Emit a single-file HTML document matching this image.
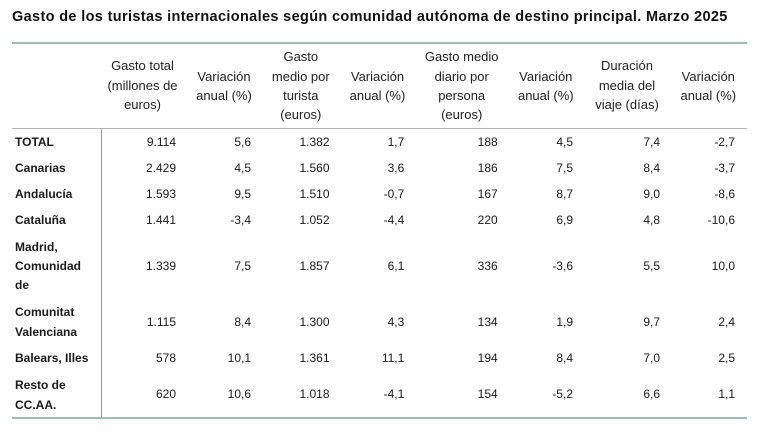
<!DOCTYPE html>
<html>
<head>
<meta charset="utf-8">
<style>
html,body{margin:0;padding:0;background:#fff;}
body{width:774px;height:439px;position:relative;overflow:hidden;font-family:"Liberation Sans",Arial,sans-serif;color:#1c1c1c;}
.title{position:absolute;left:12px;top:7px;font-size:14.5px;font-weight:bold;letter-spacing:0.35px;white-space:nowrap;color:#111;line-height:20px;}
.hl{position:absolute;left:12px;width:735px;}
.h{position:absolute;font-size:13px;line-height:19.4px;text-align:center;width:110px;white-space:nowrap;color:#222;}
.row{position:absolute;left:0;width:774px;}
.lbl{position:absolute;left:15px;font-size:12px;font-weight:bold;line-height:19.5px;white-space:nowrap;color:#1a1a1a;}
.v{position:absolute;font-size:12px;line-height:19.5px;text-align:right;width:80px;white-space:nowrap;color:#1a1a1a;}
</style>
</head>
<body>
<div class="title">Gasto de los turistas internacionales según comunidad autónoma de destino principal. Marzo 2025</div>

<div class="hl" style="top:41.5px;height:2px;background:#9dbdb6;"></div>
<div class="hl" style="top:128px;height:1px;background:#b4b4b4;"></div>
<div style="position:absolute;left:101px;top:128px;width:1px;height:290px;background:#9a9a9a;"></div>
<div class="hl" style="top:417px;height:2px;background:#9dbdb6;"></div>

<!-- headers -->
<div class="h" style="left:87.5px;top:56.4px;">Gasto total<br>(millones de<br>euros)</div>
<div class="h" style="left:169px;top:66.6px;">Variación<br>anual (%)</div>
<div class="h" style="left:245.8px;top:47.2px;">Gasto<br>medio por<br>turista<br>(euros)</div>
<div class="h" style="left:322.5px;top:66.6px;">Variación<br>anual (%)</div>
<div class="h" style="left:406.7px;top:47.2px;">Gasto medio<br>diario por<br>persona<br>(euros)</div>
<div class="h" style="left:490.8px;top:66.6px;">Variación<br>anual (%)</div>
<div class="h" style="left:572px;top:56.4px;">Duración<br>media del<br>viaje (días)</div>
<div class="h" style="left:653.3px;top:66.6px;">Variación<br>anual (%)</div>

<!-- rows: centers 142.7,169,194.5,221,266.7,322.3,359,395 -->
<div class="row" style="top:133px;">
 <div class="lbl">TOTAL</div>
 <div class="v" style="left:96px;">9.114</div>
 <div class="v" style="left:171px;">5,6</div>
 <div class="v" style="left:249.5px;">1.382</div>
 <div class="v" style="left:324.3px;">1,7</div>
 <div class="v" style="left:417.7px;">188</div>
 <div class="v" style="left:493px;">4,5</div>
 <div class="v" style="left:580px;">7,4</div>
 <div class="v" style="left:655px;">-2,7</div>
</div>
<div class="row" style="top:159.3px;">
 <div class="lbl">Canarias</div>
 <div class="v" style="left:96px;">2.429</div>
 <div class="v" style="left:171px;">4,5</div>
 <div class="v" style="left:249.5px;">1.560</div>
 <div class="v" style="left:324.3px;">3,6</div>
 <div class="v" style="left:417.7px;">186</div>
 <div class="v" style="left:493px;">7,5</div>
 <div class="v" style="left:580px;">8,4</div>
 <div class="v" style="left:655px;">-3,7</div>
</div>
<div class="row" style="top:184.8px;">
 <div class="lbl">Andalucía</div>
 <div class="v" style="left:96px;">1.593</div>
 <div class="v" style="left:171px;">9,5</div>
 <div class="v" style="left:249.5px;">1.510</div>
 <div class="v" style="left:324.3px;">-0,7</div>
 <div class="v" style="left:417.7px;">167</div>
 <div class="v" style="left:493px;">8,7</div>
 <div class="v" style="left:580px;">9,0</div>
 <div class="v" style="left:655px;">-8,6</div>
</div>
<div class="row" style="top:211.3px;">
 <div class="lbl">Cataluña</div>
 <div class="v" style="left:96px;">1.441</div>
 <div class="v" style="left:171px;">-3,4</div>
 <div class="v" style="left:249.5px;">1.052</div>
 <div class="v" style="left:324.3px;">-4,4</div>
 <div class="v" style="left:417.7px;">220</div>
 <div class="v" style="left:493px;">6,9</div>
 <div class="v" style="left:580px;">4,8</div>
 <div class="v" style="left:655px;">-10,6</div>
</div>
<div class="row" style="top:237.5px;">
 <div class="lbl" style="line-height:19.2px;">Madrid,<br>Comunidad<br>de</div>
 <div class="v" style="left:96px;top:19.5px;">1.339</div>
 <div class="v" style="left:171px;top:19.5px;">7,5</div>
 <div class="v" style="left:249.5px;top:19.5px;">1.857</div>
 <div class="v" style="left:324.3px;top:19.5px;">6,1</div>
 <div class="v" style="left:417.7px;top:19.5px;">336</div>
 <div class="v" style="left:493px;top:19.5px;">-3,6</div>
 <div class="v" style="left:580px;top:19.5px;">5,5</div>
 <div class="v" style="left:655px;top:19.5px;">10,0</div>
</div>
<div class="row" style="top:303px;">
 <div class="lbl">Comunitat<br>Valenciana</div>
 <div class="v" style="left:96px;top:9.5px;">1.115</div>
 <div class="v" style="left:171px;top:9.5px;">8,4</div>
 <div class="v" style="left:249.5px;top:9.5px;">1.300</div>
 <div class="v" style="left:324.3px;top:9.5px;">4,3</div>
 <div class="v" style="left:417.7px;top:9.5px;">134</div>
 <div class="v" style="left:493px;top:9.5px;">1,9</div>
 <div class="v" style="left:580px;top:9.5px;">9,7</div>
 <div class="v" style="left:655px;top:9.5px;">2,4</div>
</div>
<div class="row" style="top:349.3px;">
 <div class="lbl">Balears, Illes</div>
 <div class="v" style="left:96px;">578</div>
 <div class="v" style="left:171px;">10,1</div>
 <div class="v" style="left:249.5px;">1.361</div>
 <div class="v" style="left:324.3px;">11,1</div>
 <div class="v" style="left:417.7px;">194</div>
 <div class="v" style="left:493px;">8,4</div>
 <div class="v" style="left:580px;">7,0</div>
 <div class="v" style="left:655px;">2,5</div>
</div>
<div class="row" style="top:375.3px;">
 <div class="lbl" style="line-height:20px;">Resto de<br>CC.AA.</div>
 <div class="v" style="left:96px;top:10px;">620</div>
 <div class="v" style="left:171px;top:10px;">10,6</div>
 <div class="v" style="left:249.5px;top:10px;">1.018</div>
 <div class="v" style="left:324.3px;top:10px;">-4,1</div>
 <div class="v" style="left:417.7px;top:10px;">154</div>
 <div class="v" style="left:493px;top:10px;">-5,2</div>
 <div class="v" style="left:580px;top:10px;">6,6</div>
 <div class="v" style="left:655px;top:10px;">1,1</div>
</div>
</body>
</html>
